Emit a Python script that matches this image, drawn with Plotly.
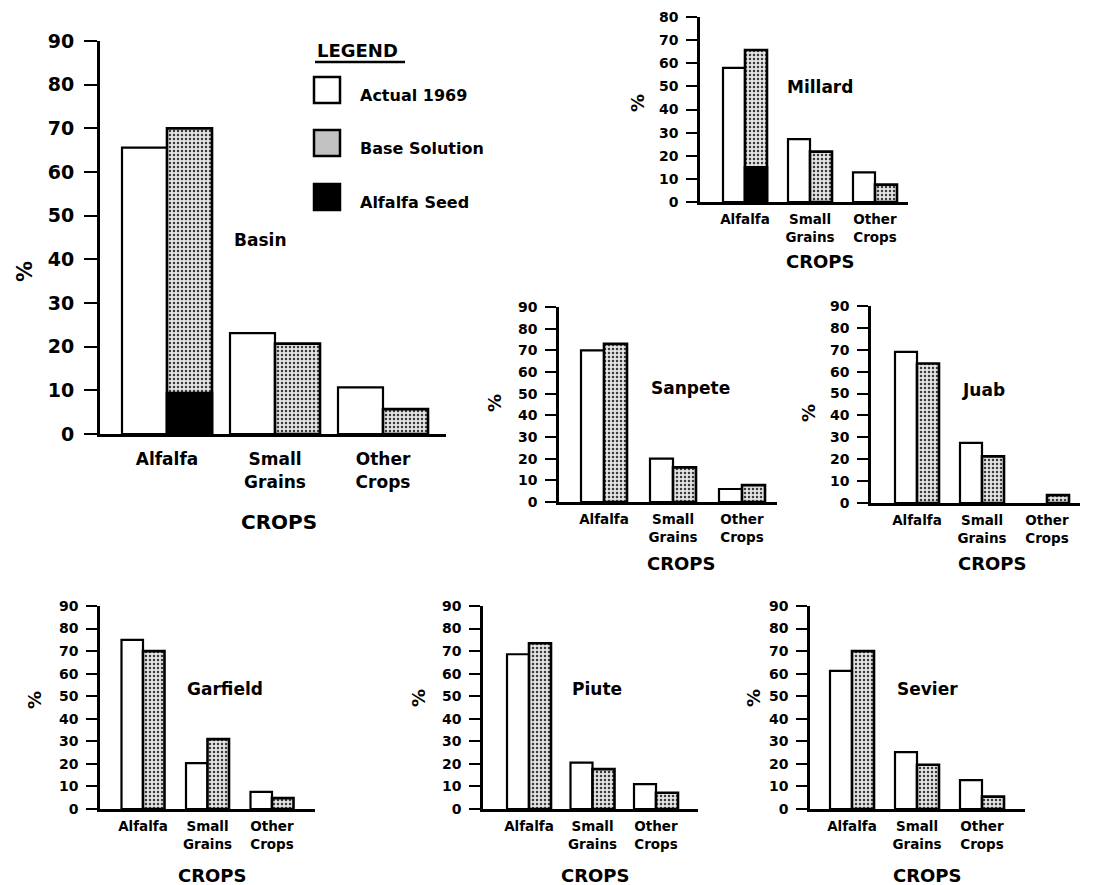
import plotly.graph_objects as go

# ---------------- data ----------------
crops = ["Alfalfa", "Small<br>Grains", "Other<br>Crops"]
regions = ["Basin", "Millard", "Sanpete", "Juab", "Garfield", "Piute", "Sevier"]
series_names = ["Actual 1969", "Base Solution", "Alfalfa Seed"]

basin_actual = [65.6, 23.1, 10.7]
basin_base = [70.0, 20.7, 5.7]
basin_seed = [9.4, None, None]

millard_actual = [58.0, 27.2, 12.8]
millard_base = [65.7, 21.8, 7.5]
millard_seed = [15.0, None, None]

sanpete_actual = [70.0, 20.0, 6.0]
sanpete_base = [73.0, 16.0, 7.8]

juab_actual = [69.0, 27.5, None]
juab_base = [63.7, 21.3, 3.6]

garfield_actual = [75.0, 20.3, 7.6]
garfield_base = [70.0, 31.0, 4.8]

piute_actual = [68.6, 20.6, 11.0]
piute_base = [73.5, 17.7, 7.2]

sevier_actual = [61.2, 25.2, 12.8]
sevier_base = [70.0, 19.6, 5.5]

y_ticks_90 = [0, 10, 20, 30, 40, 50, 60, 70, 80, 90]
y_ticks_80 = [0, 10, 20, 30, 40, 50, 60, 70, 80]

# ---------------- layout helpers (pixel geometry of each panel) ----------------
W, H = 1095, 885
FONT = "DejaVu Sans"


def fx(px):
    return px / W


def fy(py):
    return 1 - py / H


panels = [
    dict(name="Basin", actual=basin_actual, base=basin_base, seed=basin_seed, ticks=y_ticks_90,
         x0=100, x1=446, yb=434, yt=41, c0=167, ppu=108, bw=45, big=True,
         label=(260, 240), pct=(25, 272), crops=(279, 522)),
    dict(name="Millard", actual=millard_actual, base=millard_base, seed=millard_seed, ticks=y_ticks_80,
         x0=700, x1=908, yb=202, yt=17, c0=745, ppu=65, bw=22, big=False,
         label=(820, 87), pct=(637, 103), crops=(820, 261)),
    dict(name="Sanpete", actual=sanpete_actual, base=sanpete_base, seed=None, ticks=y_ticks_90,
         x0=559, x1=777, yb=502, yt=307, c0=604, ppu=69, bw=23, big=False,
         label=(690, 388), pct=(494, 403), crops=(681, 563)),
    dict(name="Juab", actual=juab_actual, base=juab_base, seed=None, ticks=y_ticks_90,
         x0=871, x1=1080, yb=503, yt=306, c0=917, ppu=65, bw=22, big=False,
         label=(983, 390), pct=(808, 413), crops=(992, 563)),
    dict(name="Garfield", actual=garfield_actual, base=garfield_base, seed=None, ticks=y_ticks_90,
         x0=100, x1=315, yb=809, yt=606, c0=143, ppu=64.5, bw=21.5, big=False,
         label=(225, 689), pct=(34, 700), crops=(212, 875)),
    dict(name="Piute", actual=piute_actual, base=piute_base, seed=None, ticks=y_ticks_90,
         x0=483, x1=698, yb=809, yt=606, c0=529, ppu=63.5, bw=22, big=False,
         label=(597, 689), pct=(418, 698), crops=(595, 875)),
    dict(name="Sevier", actual=sevier_actual, base=sevier_base, seed=None, ticks=y_ticks_90,
         x0=810, x1=1025, yb=809, yt=606, c0=852, ppu=65, bw=22, big=False,
         label=(927, 689), pct=(753, 698), crops=(927, 875)),
]

STIPPLE = dict(shape=".", fgcolor="#3a3a3a", bgcolor="#e4e4e4", size=4, solidity=0.3, fillmode="replace")

fig = go.Figure()
annotations = []
layout_axes = {}

for i, p in enumerate(panels):
    k = "" if i == 0 else str(i + 1)
    xa, ya = "x" + k, "y" + k
    w = p["bw"] / p["ppu"]
    ymax = p["ticks"][-1]

    fig.add_trace(go.Bar(
        x=crops, y=p["actual"], xaxis=xa, yaxis=ya, name=series_names[0],
        offset=-w, width=w, showlegend=False,
        marker=dict(color="white", line=dict(color="black", width=2.2)),
        hoverinfo="x+y"))
    fig.add_trace(go.Bar(
        x=crops, y=p["base"], xaxis=xa, yaxis=ya, name=series_names[1],
        offset=0, width=w, showlegend=False,
        marker=dict(color="#cfcfcf", pattern=STIPPLE, line=dict(color="black", width=2.6)),
        hoverinfo="x+y"))
    if p["seed"] is not None:
        fig.add_trace(go.Bar(
            x=crops, y=p["seed"], xaxis=xa, yaxis=ya, name=series_names[2],
            offset=0, width=w, showlegend=False,
            marker=dict(color="black", line=dict(color="black", width=2.6)),
            hoverinfo="x+y"))

    big = p["big"]
    tickfont = dict(family=FONT, size=19 if big else 14, color="black", weight="bold")
    catfont = dict(family=FONT, size=17 if big else 13.5, color="black", weight="bold")
    lw = 3 if big else 2.5

    xr = [(p["x0"] - p["c0"]) / p["ppu"], (p["x1"] - p["c0"]) / p["ppu"]]
    layout_axes["xaxis" + k] = dict(
        domain=[fx(p["x0"]), fx(p["x1"])], anchor=ya, type="category",
        categoryorder="array", categoryarray=crops, range=xr, automargin=False,
        showline=True, linecolor="black", linewidth=lw, ticks="",
        tickfont=catfont, showgrid=False, zeroline=False, fixedrange=True,
        ticklabelstandoff=8 if big else 3)
    layout_axes["yaxis" + k] = dict(
        domain=[fy(p["yb"]), fy(p["yt"])], anchor=xa, range=[0, ymax], automargin=False,
        tickvals=p["ticks"], ticks="outside", ticklen=13 if big else 11,
        tickwidth=2, tickcolor="black", showline=True, linecolor="black",
        linewidth=lw, tickfont=tickfont, showgrid=False, zeroline=False,
        fixedrange=True, ticklabelstandoff=6 if big else 5)

    annotations.append(dict(
        x=fx(p["label"][0]), y=fy(p["label"][1]), xref="paper", yref="paper",
        text=p["name"], showarrow=False, xanchor="center", yanchor="middle",
        font=dict(family=FONT, size=17, color="black", weight="bold")))
    annotations.append(dict(
        x=fx(p["pct"][0]), y=fy(p["pct"][1]), xref="paper", yref="paper",
        text="%", textangle=-90, showarrow=False, xanchor="center", yanchor="middle",
        font=dict(family=FONT, size=21 if big else 18, color="black", weight="bold")))
    annotations.append(dict(
        x=fx(p["crops"][0]), y=fy(p["crops"][1]), xref="paper", yref="paper",
        text="CROPS", showarrow=False, xanchor="center", yanchor="middle",
        font=dict(family=FONT, size=20 if big else 18, color="black", weight="bold")))

# ---------------- legend (key boxes + text) ----------------
shapes = []
annotations.append(dict(
    x=fx(315), y=fy(50), xref="paper", yref="paper", text="LEGEND",
    showarrow=False, xanchor="left", yanchor="middle",
    font=dict(family=FONT, size=18, color="black", weight="bold")))
shapes.append(dict(type="line", xref="paper", yref="paper",
                   x0=fx(315), x1=fx(405), y0=fy(62), y1=fy(62),
                   line=dict(color="black", width=2.5)))
legend_rows = [(90, "white"), (143, "#c2c2c2"), (197, "black")]
for (cy, fill), label in zip(legend_rows, series_names):
    shapes.append(dict(type="rect", xref="paper", yref="paper",
                       x0=fx(314), x1=fx(340), y0=fy(cy + 13), y1=fy(cy - 13),
                       fillcolor=fill, line=dict(color="black", width=2.5)))
    annotations.append(dict(
        x=fx(358), y=fy(cy + 6), xref="paper", yref="paper", text=label,
        showarrow=False, xanchor="left", yanchor="middle",
        font=dict(family=FONT, size=16, color="black", weight="bold")))

fig.update_layout(
    width=W, height=H, margin=dict(l=0, r=0, t=0, b=0, pad=0, autoexpand=False),
    paper_bgcolor="white", plot_bgcolor="rgba(0,0,0,0)",
    barmode="overlay", showlegend=False,
    annotations=annotations, shapes=shapes,
    font=dict(family=FONT, color="black"),
    **layout_axes)

fig.write_html("out.html")
